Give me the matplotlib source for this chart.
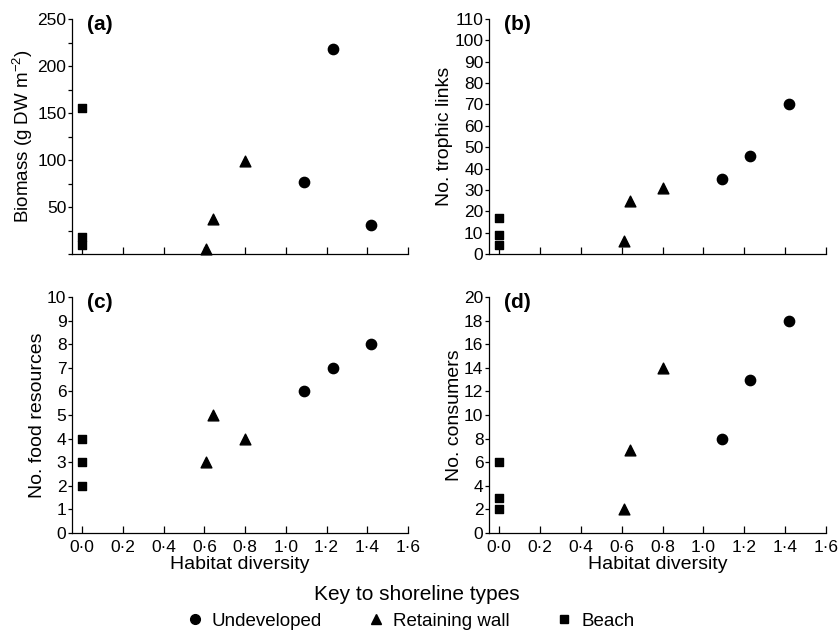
import matplotlib.pyplot as plt
from matplotlib.ticker import FuncFormatter, MultipleLocator
from matplotlib.lines import Line2D

plt.rcParams['font.family'] = ['Liberation Sans', 'DejaVu Sans']
plt.rcParams['mathtext.default'] = 'regular'

# ===================== ##
# Data                   ##
# ===================== ##
undev_x = [1.09, 1.23, 1.42]
wall_x = [0.61, 0.64, 0.80]
beach_x = [0.0, 0.0, 0.0]

biomass_undev = [77, 218, 31]
biomass_wall = [5, 37, 99]
biomass_beach = [155, 18, 10]

links_undev = [35, 46, 70]
links_wall = [6, 25, 31]
links_beach = [17, 9, 4]

food_undev = [6, 7, 8]
food_wall = [3, 5, 4]
food_beach = [4, 3, 2]

cons_undev = [8, 13, 18]
cons_wall = [2, 7, 14]
cons_beach = [6, 3, 2]

panels = [
    ("(a)", "Biomass (g DW m$^{-2}$)", biomass_undev, biomass_wall, biomass_beach, (0, 250), 25),
    ("(b)", "No. trophic links", links_undev, links_wall, links_beach, (0, 110), 10),
    ("(c)", "No. food resources", food_undev, food_wall, food_beach, (0, 10), 1),
    ("(d)", "No. consumers", cons_undev, cons_wall, cons_beach, (0, 20), 2),
]

W, H = 838, 639
boxes = [
    (72, 19, 408, 254),
    (489, 19, 826, 254),
    (72, 297, 408, 533),
    (489, 297, 826, 533),
]

fig = plt.figure(figsize=(W / 100, H / 100), dpi=100)

dot_fmt = FuncFormatter(lambda v, p: f"{v:.1f}".replace(".", "\u00b7"))
# biomass panel: tick every 25, label only 50, 100, ...
biomass_fmt = FuncFormatter(lambda v, p: f"{v:.0f}" if v > 0 and v % 50 == 0 else "")

for i, (tag, ylab, yu, yw, yb, ylim, ystep) in enumerate(panels):
    x0, y0, x1, y1 = boxes[i]
    ax = fig.add_axes([x0 / W, (H - y1) / H, (x1 - x0) / W, (y1 - y0) / H])
    ax.scatter(undev_x, yu, marker='o', s=55, color='black', clip_on=False, zorder=3)
    ax.scatter(wall_x, yw, marker='^', s=60, color='black', clip_on=False, zorder=3)
    ax.scatter(beach_x, yb, marker='s', s=40, color='black', clip_on=False, zorder=3)

    ax.set_xlim(-0.05, 1.6)
    ax.set_ylim(*ylim)
    ax.yaxis.set_major_locator(MultipleLocator(ystep))
    if i == 0:
        ax.yaxis.set_major_formatter(biomass_fmt)
    ax.xaxis.set_major_locator(MultipleLocator(0.2))
    ax.xaxis.set_major_formatter(dot_fmt)

    ax.spines['top'].set_visible(False)
    ax.spines['right'].set_visible(False)
    for s in ('left', 'bottom'):
        ax.spines[s].set_linewidth(0.9)
    ax.tick_params(axis='x', direction='in', length=5, width=0.9, labelsize=12.5, pad=5)
    ax.tick_params(axis='y', direction='out', length=3, width=0.9, labelsize=12.5, pad=1)

    if i == 0:
        ax.set_ylabel(ylab, fontsize=13.5, labelpad=2)
    else:
        ax.set_ylabel(ylab, fontsize=14, labelpad=1)
    if i < 2:
        ax.tick_params(axis='x', labelbottom=False)
    else:
        ax.set_xlabel("Habitat diversity", fontsize=14, labelpad=1)

    ax.text(0.045, 0.978, tag, transform=ax.transAxes, fontsize=15,
            fontweight='bold', va='center', ha='left')

# key below the panels
fig.text(417 / W, (H - 595) / H, "Key to shoreline types", fontsize=15,
         ha='center', va='center')
handles = [
    Line2D([], [], marker='o', linestyle='none', color='black', markersize=7),
    Line2D([], [], marker='^', linestyle='none', color='black', markersize=7),
    Line2D([], [], marker='s', linestyle='none', color='black', markersize=6),
]
leg = fig.legend(handles, ["Undeveloped", "Retaining wall", "Beach"],
                 loc='center', bbox_to_anchor=(409 / W, (H - 621) / H), ncol=3,
                 frameon=False, fontsize=13.5, handletextpad=0.3,
                 columnspacing=2.3, handlelength=1.2, borderpad=0)

plt.savefig("out.png", dpi=100)
